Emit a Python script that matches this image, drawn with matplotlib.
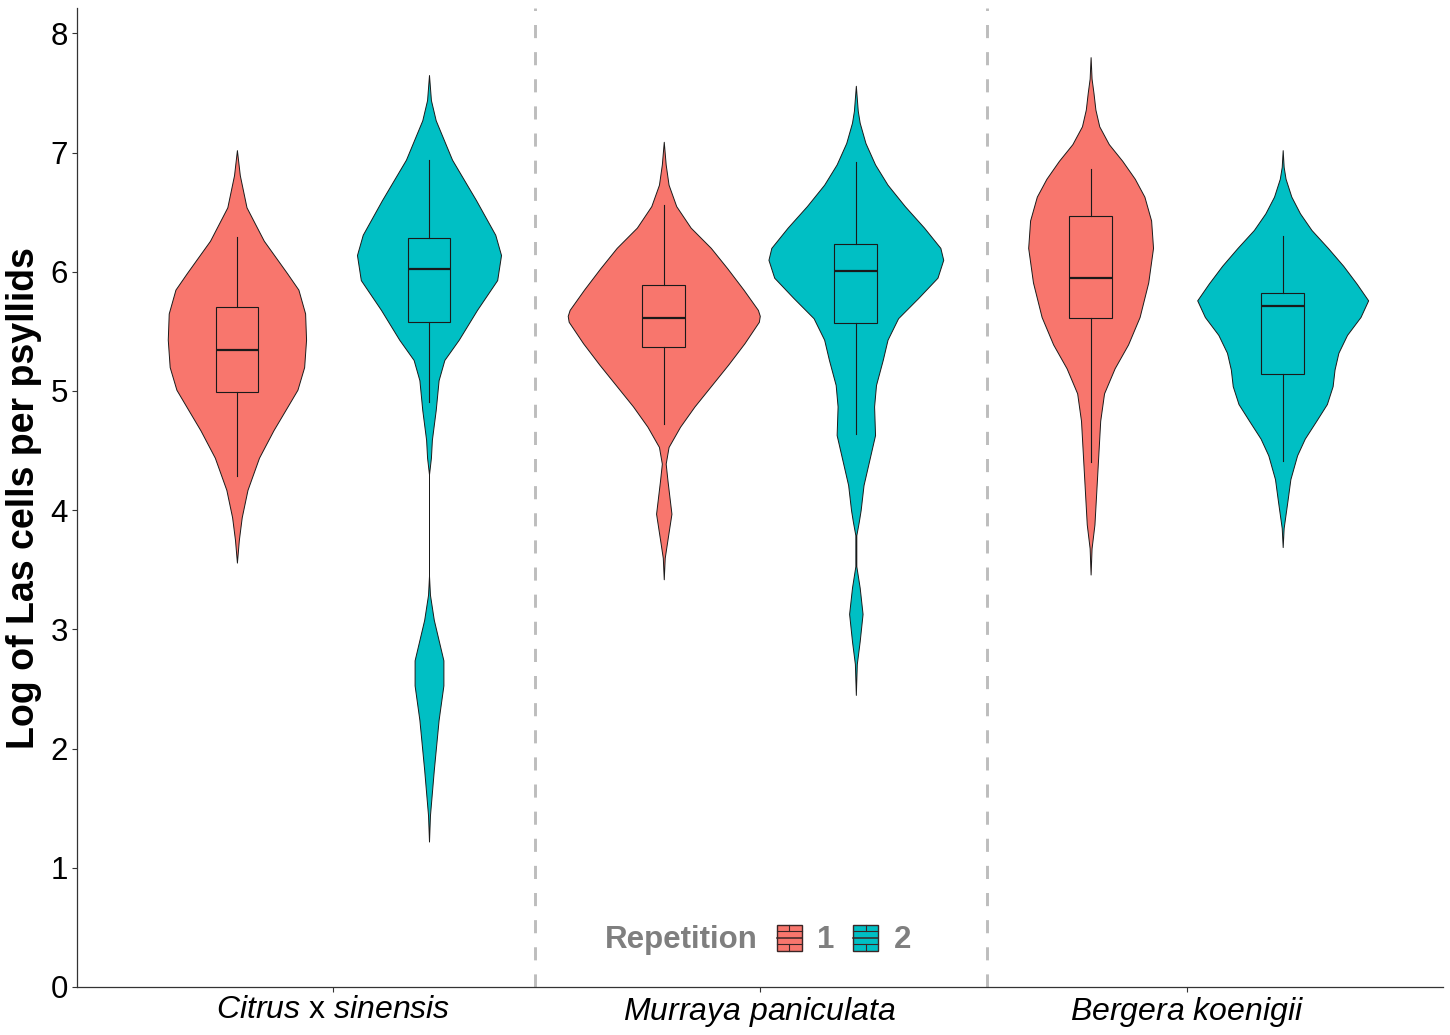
import numpy as np
import matplotlib
matplotlib.use("Agg")
import matplotlib.pyplot as plt
from matplotlib.patches import Patch, Rectangle
from matplotlib.lines import Line2D
from matplotlib.legend_handler import HandlerBase

plt.rcParams['font.family'] = ['Liberation Sans', 'DejaVu Sans']
plt.rcParams['mathtext.fontset'] = 'custom'
plt.rcParams['mathtext.it'] = 'Liberation Sans:italic'
plt.rcParams['mathtext.rm'] = 'Liberation Sans'

hosts = [r'$\mathit{Citrus}$ x $\mathit{sinensis}$',
         r'$\mathit{Murraya}$ $\mathit{paniculata}$',
         r'$\mathit{Bergera}$ $\mathit{koenigii}$']
reps = ['1', '2']
rep_colors = ['#F8766D', '#00BFC4']
separators = [1.473, 2.532]

# violin profiles: y value and relative width (widest violin = 1)
citrus1_y = [3.56, 3.75, 3.94, 4.17, 4.44, 4.67, 4.86, 5.01, 5.20, 5.43, 5.65, 5.85, 5.99, 6.26, 6.54, 6.81, 7.02]
citrus1_w = [0, 0.02, 0.05, 0.11, 0.23, 0.38, 0.52, 0.63, 0.70, 0.72, 0.71, 0.64, 0.52, 0.28, 0.10, 0.03, 0]

citrus2_y = [1.22, 1.44, 1.82, 2.24, 2.53, 2.74, 3.08, 3.29, 3.45, 4.30, 4.44, 4.59, 4.84, 5.09, 5.26, 5.43,
             5.68, 5.93, 6.14, 6.31, 6.60, 6.94, 7.27, 7.44, 7.65]
citrus2_w = [0, 0.01, 0.05, 0.10, 0.15, 0.15, 0.05, 0.01, 0, 0, 0.02, 0.03, 0.07, 0.10, 0.16, 0.31,
             0.50, 0.71, 0.75, 0.69, 0.49, 0.24, 0.07, 0.02, 0]

murraya1_y = [3.42, 3.60, 3.76, 3.97, 4.24, 4.39, 4.53, 4.70, 4.87, 5.05, 5.22, 5.40, 5.58, 5.63, 5.68, 5.85,
              6.03, 6.20, 6.37, 6.55, 6.73, 6.90, 7.09]
murraya1_w = [0, 0.01, 0.04, 0.08, 0.04, 0.02, 0.05, 0.17, 0.32, 0.50, 0.67, 0.84, 0.99, 1.00, 0.98, 0.83,
              0.66, 0.49, 0.28, 0.13, 0.05, 0.02, 0]

murraya2_y = [2.45, 2.71, 2.90, 3.13, 3.35, 3.53, 3.79, 3.90, 4.00, 4.21, 4.42, 4.63, 4.87, 5.05, 5.26, 5.43,
              5.61, 5.78, 5.95, 6.10, 6.20, 6.37, 6.55, 6.73, 6.90, 7.08, 7.25, 7.35, 7.56]
murraya2_w = [0, 0.01, 0.04, 0.07, 0.04, 0.005, 0.005, 0.03, 0.05, 0.08, 0.14, 0.20, 0.19, 0.21, 0.28, 0.33,
              0.44, 0.65, 0.85, 0.91, 0.88, 0.71, 0.51, 0.33, 0.20, 0.10, 0.04, 0.02, 0]

bergera1_y = [3.46, 3.68, 3.88, 4.17, 4.46, 4.75, 4.98, 5.19, 5.39, 5.62, 5.91, 6.20, 6.43, 6.63, 6.78, 6.93,
              7.07, 7.22, 7.36, 7.50, 7.62, 7.80]
bergera1_w = [0, 0.01, 0.04, 0.06, 0.08, 0.10, 0.14, 0.25, 0.39, 0.51, 0.60, 0.65, 0.63, 0.56, 0.46, 0.33,
              0.19, 0.09, 0.05, 0.03, 0.01, 0]

bergera2_y = [3.69, 3.85, 4.08, 4.26, 4.46, 4.60, 4.75, 4.89, 5.04, 5.18, 5.32, 5.47, 5.62, 5.76, 5.90, 6.05,
              6.20, 6.35, 6.49, 6.63, 6.78, 6.88, 7.02]
bergera2_w = [0, 0.01, 0.05, 0.08, 0.15, 0.23, 0.35, 0.46, 0.52, 0.54, 0.58, 0.67, 0.81, 0.89, 0.77, 0.63,
              0.47, 0.30, 0.18, 0.09, 0.03, 0.01, 0]

# box statistics, order: host x repetition
whis_lo = [4.29, 4.91, 4.72, 4.64, 4.40, 4.41]
q1 = [4.99, 5.58, 5.37, 5.57, 5.61, 5.14]
median = [5.34, 6.02, 5.61, 6.01, 5.95, 5.71]
q3 = [5.70, 6.28, 5.89, 6.23, 6.47, 5.82]
whis_hi = [6.29, 6.94, 6.56, 6.92, 6.86, 6.30]

profiles = [(citrus1_y, citrus1_w), (citrus2_y, citrus2_w),
            (murraya1_y, murraya1_w), (murraya2_y, murraya2_w),
            (bergera1_y, bergera1_w), (bergera2_y, bergera2_w)]

dodge = 0.225
positions = []
colors = []
for i in range(len(hosts)):
    for j in range(len(reps)):
        positions.append(i + 1 + (j - 0.5) * 2 * dodge)
        colors.append(rep_colors[j])

fig = plt.figure(figsize=(14.5, 10.35), dpi=100)
ax = fig.add_axes([0.053, 0.0464, 0.942, 0.9456])

for xv in separators:
    ax.axvline(xv, color='#BDBDBD', lw=2.1, ls=(0, (4.5, 4.8)), zorder=0)

vpstats = []
widths = []
for k, (yy, ww) in enumerate(profiles):
    vpstats.append(dict(coords=np.array(yy), vals=np.array(ww), mean=median[k], median=median[k],
                        min=min(yy), max=max(yy)))
    widths.append(0.45 * max(ww))

parts = ax.violin(vpstats, positions=positions, widths=widths, showextrema=False)
for body, c in zip(parts['bodies'], colors):
    body.set_facecolor(c)
    body.set_edgecolor('#1a1a1a')
    body.set_linewidth(0.7)
    body.set_alpha(1)

bstats = []
for k in range(len(positions)):
    bstats.append(dict(whislo=whis_lo[k], q1=q1[k], med=median[k], q3=q3[k], whishi=whis_hi[k], fliers=[]))
bp = ax.bxp(bstats, positions=positions, widths=0.1, patch_artist=True, showfliers=False, showcaps=False,
            boxprops=dict(edgecolor='#1a1a1a', linewidth=0.8),
            whiskerprops=dict(color='#1a1a1a', linewidth=0.8),
            medianprops=dict(color='#1a1a1a', linewidth=1.6))
for patch, c in zip(bp['boxes'], colors):
    patch.set_facecolor(c)

ax.set_xlim(0.4, 3.6)
ax.set_ylim(0, 8.21)
ax.set_xticks([1, 2, 3])
ax.set_xticklabels(hosts, fontsize=23)
ax.set_yticks(range(0, 9))
ax.set_yticklabels([str(v) for v in range(0, 9)], fontsize=22.5)
ax.tick_params(length=3.5, width=0.8, color='#333333', pad=3)
ax.tick_params(axis='x', pad=2)
ax.set_ylabel('Log of Las cells per psyllids', fontsize=27, fontweight='bold', labelpad=6)
for s in ['top', 'right']:
    ax.spines[s].set_visible(False)
for s in ['left', 'bottom']:
    ax.spines[s].set_linewidth(0.9)
    ax.spines[s].set_color('#333333')


class BoxKey(HandlerBase):
    def create_artists(self, legend, orig_handle, xdescent, ydescent, width, height, fontsize, trans):
        x0, y0 = -xdescent, -ydescent
        fc = orig_handle.get_facecolor()
        ec = '#3a2626'
        arts = [Rectangle((x0, y0), width, height, facecolor=fc, edgecolor=ec, lw=1.0, transform=trans),
                Line2D([x0, x0 + width], [y0 + 0.25 * height] * 2, color=ec, lw=0.8, transform=trans),
                Line2D([x0, x0 + width], [y0 + 0.5 * height] * 2, color=ec, lw=1.1, transform=trans),
                Line2D([x0, x0 + width], [y0 + 0.75 * height] * 2, color=ec, lw=0.8, transform=trans),
                Line2D([x0 + 0.5 * width] * 2, [y0, y0 + 0.25 * height], color=ec, lw=0.8, transform=trans),
                Line2D([x0 + 0.5 * width] * 2, [y0 + 0.75 * height, y0 + height], color=ec, lw=0.8,
                       transform=trans)]
        return arts


title_handle = Patch(facecolor='none', edgecolor='none')
key_handles = [Patch(facecolor=c) for c in rep_colors]
leg = ax.legend([title_handle] + key_handles, ['Repetition'] + reps, ncol=3, loc='center',
                bbox_to_anchor=(0.484, 0.048), frameon=False,
                prop=dict(size=22.5, weight='bold'), labelcolor='#7F7F7F',
                handler_map={key_handles[0]: BoxKey(), key_handles[1]: BoxKey()},
                handlelength=0.8, handleheight=0.9, handletextpad=0.5, columnspacing=0.6)

fig.savefig('out.png', dpi=100)
